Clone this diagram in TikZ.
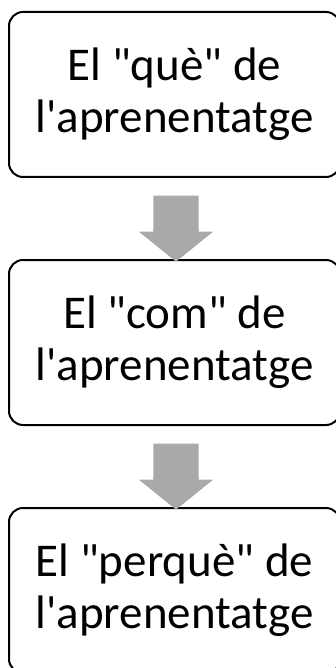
\documentclass[tikz,border=0pt]{standalone}
\usepackage{fontspec}
\newfontfamily\carlito{Carlito}
\usepackage{tikz}
\usetikzlibrary{%
	shapes.arrows,%
	positioning,% wg. " of "
	calc
}
\definecolor{arrowgrey}{RGB}{169,169,169}
\tikzstyle{block} = [rectangle, rounded corners=14pt, draw=black, line width=2pt, fill=white, minimum width=331pt, minimum height=165pt, inner sep=0pt, align=center, font=\carlito\fontsize{47}{52}\selectfont]
\tikzstyle{flow} = [single arrow, shape border rotate=270, fill=arrowgrey, draw=none, inner sep=0pt, text width=45pt, minimum height=66pt, minimum width=74pt, single arrow head extend=14.5pt, single arrow tip angle=102]

\begin{document}
\begin{tikzpicture}[x=1pt,y=1pt]
		
		\useasboundingbox (0,0) rectangle (336,-668);
		
		% First we draw the blocks
		\node[block] (que) at (174.5,-94.5) {El "què" de\\l'aprenentatge};
		\node[block, below=81pt of que] (com) {El "com" de\\l'aprenentatge};
		\node[block, below=81pt of com] (perque) {El "perquè" de\\l'aprenentatge};
		
		% Block arrows between the blocks
		\foreach \source/ \dest in {que/com, com/perque}
		\node[flow] (\source-\dest) at ($(\source.south)!0.5!(\dest.north)+(1.5,-1)$) {};
		
		\end{tikzpicture}
\end{document}
